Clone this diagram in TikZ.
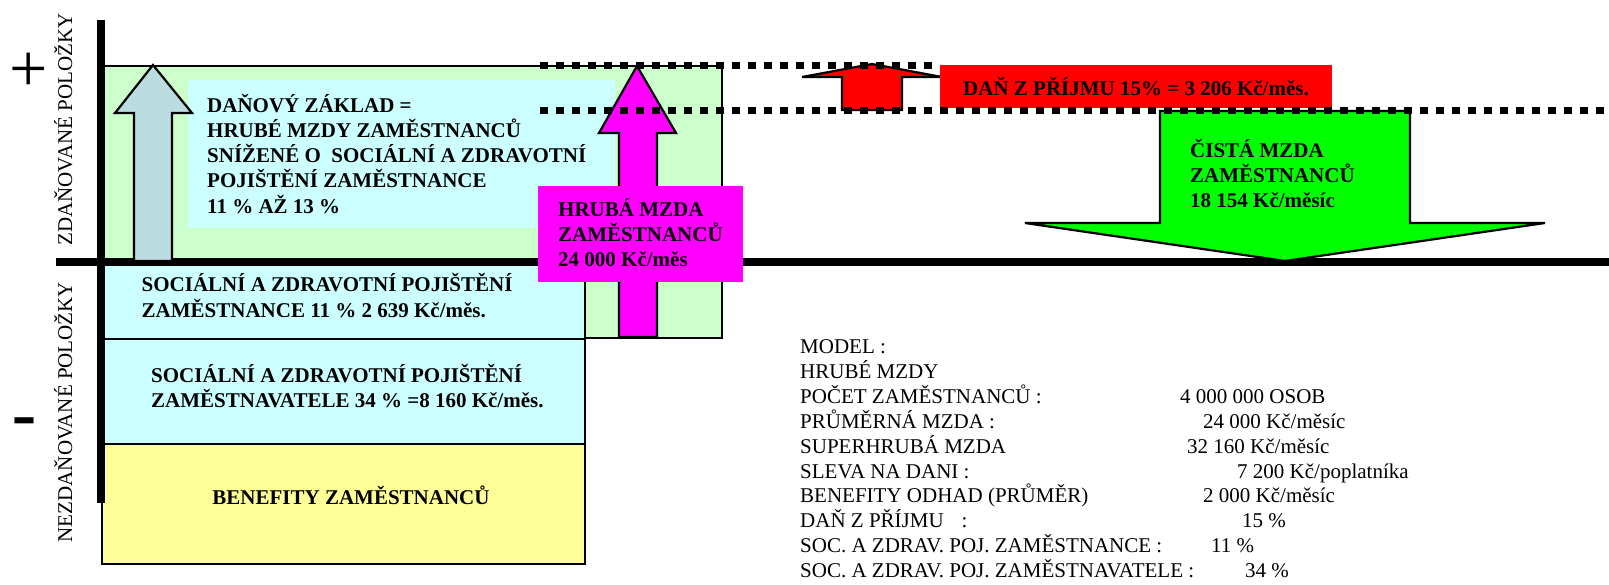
\documentclass[tikz,border=0pt]{standalone}
\usepackage{fontspec}
\setmainfont{Liberation Serif}
\newfontfamily\sansf{Liberation Sans}
\definecolor{lgreen}{HTML}{CCFFCC}
\definecolor{lcyan}{HTML}{CCFFFF}
\definecolor{lyellow}{HTML}{FFFF99}
\definecolor{lblue}{RGB}{187,221,226}
\definecolor{vmagenta}{HTML}{FF00FF}
\definecolor{vred}{HTML}{FF0000}
\definecolor{vgreen}{HTML}{00FF00}
\newcommand{\mylines}[1]{\vtop{\let\\\cr\lineskiplimit=-\maxdimen\halign{##\hfil\cr#1\crcr}}}
\tikzset{
  lbl/.style={font=\fontsize{21}{25.3}\selectfont\bfseries, inner sep=0pt, anchor=base west},
  txt/.style={font=\fontsize{21}{24.9}\selectfont, inner sep=0pt, anchor=base west},
  box/.style={draw, line width=2.2pt, inner sep=0pt, anchor=north west},
  flat/.style={inner sep=0pt, anchor=north west},
  shp/.style={draw, line width=2.2pt, line join=miter},
  dotline/.style={line width=7pt, dash pattern=on 7.5pt off 8.5pt},
  axisline/.style={line width=8pt},
}
\begin{document}
\begin{tikzpicture}[x=1pt,y=-1pt]
\useasboundingbox (0,0) rectangle (1609,584);
\clip (0,0) rectangle (1609,584);
% boxes
\node[box, fill=lgreen, minimum width=620pt, minimum height=272pt] (zdan) at (101,65) {};
\node[flat, fill=lcyan, minimum width=427pt, minimum height=148pt] (zaklad) at (188,80) {};
\node[box, fill=lcyan, minimum width=483pt, minimum height=74pt] (szz) at (101,264) {};
\node[box, fill=lcyan, minimum width=483pt, minimum height=105pt] (szv) at (101,338) {};
\node[box, fill=lyellow, minimum width=483pt, minimum height=120pt] (ben) at (101,443) {};
% axes
\coordinate (hx0) at (56,261.5);
\coordinate (hx1) at (1609,261.5);
\coordinate (vy0) at (101,20);
\coordinate (vy1) at (101,503);
\draw[axisline] (hx0) -- (hx1);
\draw[axisline] (vy0) -- (vy1);
% arrows
\draw[shp, fill=lblue] (153,65) -- (192,113) -- (172,113) -- (172,261) -- (134,261) -- (134,113) -- (115,113) -- cycle;
\draw[shp, fill=vmagenta] (637,66) -- (676,133) -- (657,133) -- (657,337) -- (619,337) -- (619,133) -- (599,133) -- cycle;
\node[flat, fill=vmagenta, minimum width=205pt, minimum height=96pt] (hruba) at (538,186) {};
\draw[shp, fill=vred] (872,64) -- (942,77) -- (902,77) -- (902,110) -- (842,110) -- (842,77) -- (802,77) -- cycle;
\node[flat, fill=vred, minimum width=392pt, minimum height=43pt] (dan) at (940,65) {};
\draw[shp, fill=vgreen] (1160,111) -- (1410,111) -- (1410,223) -- (1545,223) -- (1285,261) -- (1025,223) -- (1160,223) -- cycle;
% dotted lines
\coordinate (d1a) at (540,65);
\coordinate (d1b) at (935,65);
\coordinate (d2a) at (540,110);
\coordinate (d2b) at (1609,110);
\draw[dotline] (d1a) -- (d1b);
\draw[dotline] (d2a) -- (d2b);
% signs and axis labels
\node[font=\fontsize{68}{68}\selectfont, inner sep=0pt, anchor=base] (plus) at (29,91) {+};
\node[font=\sansf\fontsize{78}{78}\selectfont, inner sep=0pt, anchor=base] (minus) at (24.5,441) {-};
\node[txt, anchor=base, rotate=90] (zdlab) at (72,129.5) {ZDAŇOVANÉ POLOŽKY};
\node[txt, anchor=base, rotate=90] (nzlab) at (72,412) {NEZDAŇOVANÉ POLOŽKY};
% texts
\node[lbl] (t-zaklad) at (207,112) {\mylines{DAŇOVÝ ZÁKLAD =\\HRUBÉ MZDY ZAMĚSTNANCŮ\\SNÍŽENÉ O\ \ SOCIÁLNÍ A ZDRAVOTNÍ\\POJIŠTĚNÍ ZAMĚSTNANCE\\11 \% AŽ 13 \%}};
\node[lbl, font=\fontsize{21}{25.5}\selectfont\bfseries] (t-szz) at (141.5,291.5) {\mylines{SOCIÁLNÍ A ZDRAVOTNÍ POJIŠTĚNÍ\\ZAMĚSTNANCE 11 \% 2 639 Kč/měs.}};
\node[lbl, font=\fontsize{21}{25.5}\selectfont\bfseries] (t-szv) at (151,382) {\mylines{SOCIÁLNÍ A ZDRAVOTNÍ POJIŠTĚNÍ\\ZAMĚSTNAVATELE 34 \% =8 160 Kč/měs.}};
\node[lbl, anchor=base] (t-ben) at (351,504) {BENEFITY ZAMĚSTNANCŮ};
\node[lbl] (t-hruba) at (558,216) {\mylines{HRUBÁ MZDA\\ZAMĚSTNANCŮ\\24 000 Kč/měs}};
\node[lbl, anchor=base] (t-dan) at (1136,95) {DAŇ Z PŘÍJMU 15\% = 3 206 Kč/měs.};
\node[lbl] (t-cista) at (1190,157) {\mylines{ČISTÁ MZDA\\ZAMĚSTNANCŮ\\18 154 Kč/měsíc}};
% model
\node[txt] (model) at (800,353.5) {\mylines{MODEL :\\HRUBÉ MZDY\\POČET ZAMĚSTNANCŮ :\\PRŮMĚRNÁ MZDA :\\SUPERHRUBÁ MZDA\\SLEVA NA DANI :\\BENEFITY ODHAD (PRŮMĚR)\\DAŇ Z PŘÍJMU\hspace{18pt}:\\SOC. A ZDRAV. POJ. ZAMĚSTNANCE :\\SOC. A ZDRAV. POJ. ZAMĚSTNAVATELE :}};
\node[txt] (v1) at (1180,403.3) {4 000 000 OSOB};
\node[txt] (v2) at (1203,428.2) {24 000 Kč/měsíc};
\node[txt] (v3) at (1187,453.1) {32 160 Kč/měsíc};
\node[txt] (v4) at (1237,478) {7 200 Kč/poplatníka};
\node[txt] (v5) at (1203,502.9) {2 000 Kč/měsíc};
\node[txt] (v6) at (1242,527.8) {15 \%};
\node[txt] (v7) at (1211,552.7) {11 \%};
\node[txt] (v8) at (1245,577.6) {34 \%};
\end{tikzpicture}
\end{document}
